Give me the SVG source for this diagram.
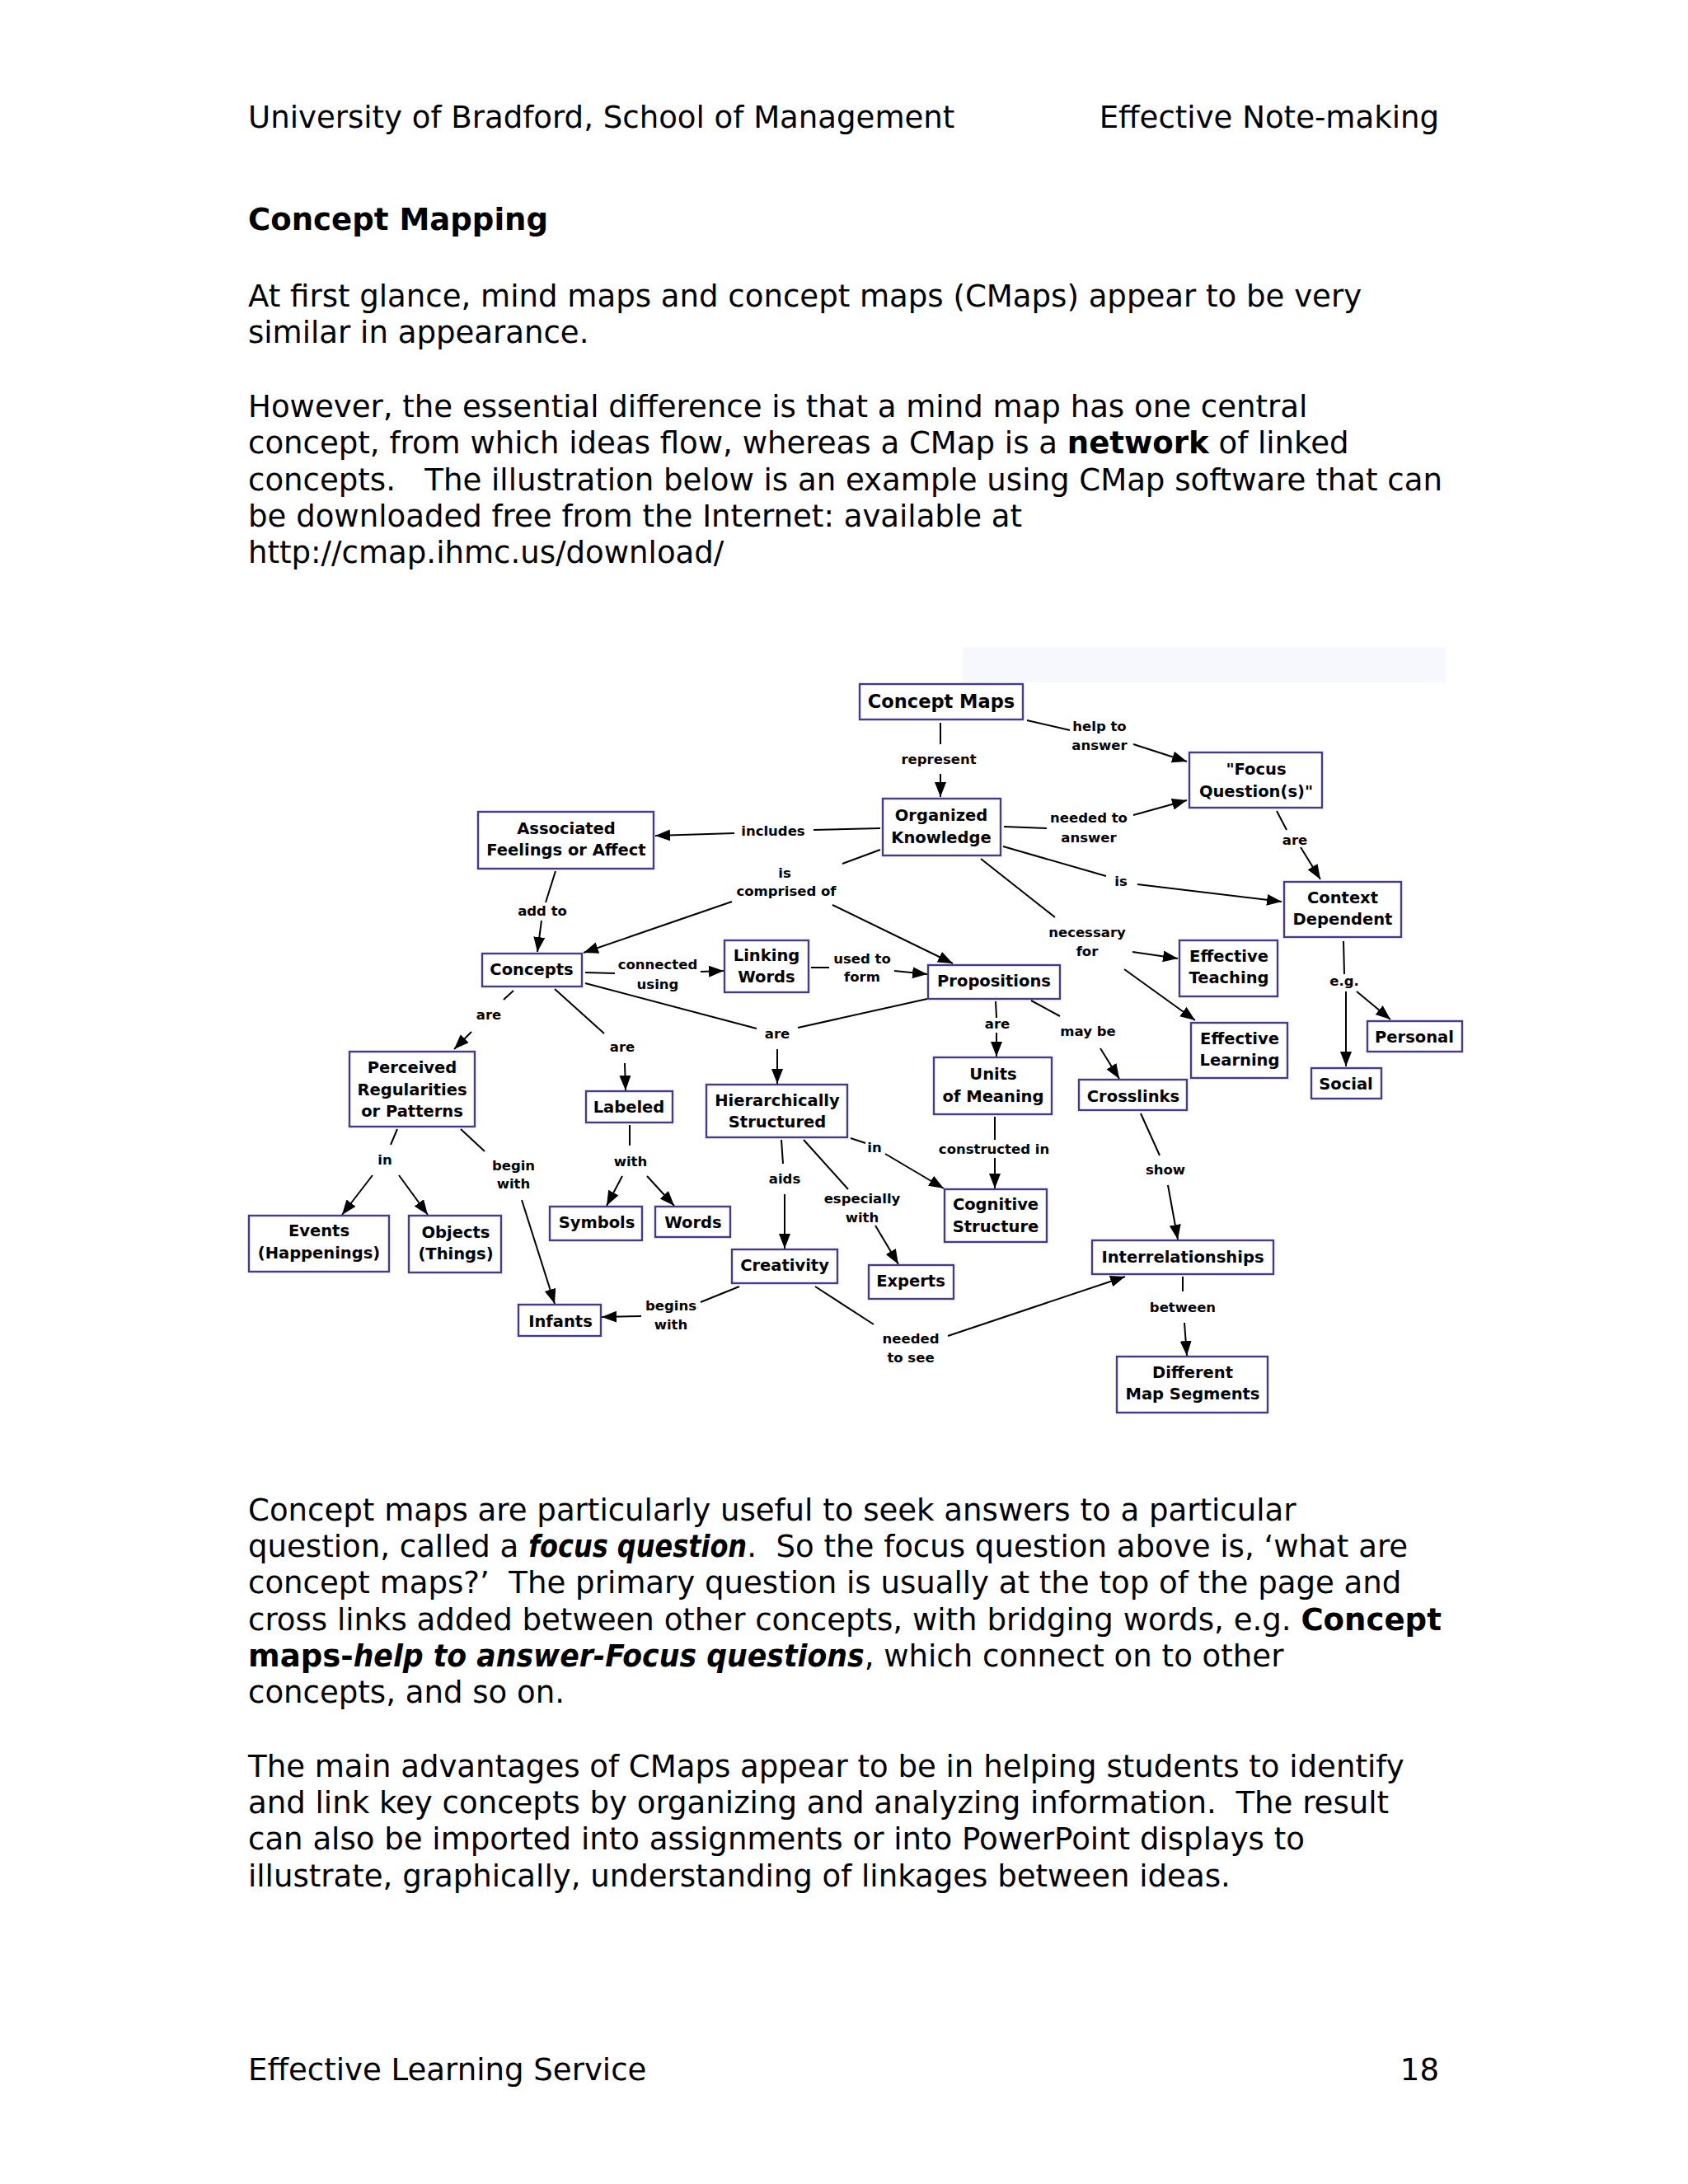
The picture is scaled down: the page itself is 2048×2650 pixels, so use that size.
<svg xmlns="http://www.w3.org/2000/svg" width="2048" height="2650" viewBox="0 0 2048 2650">
<style>
.body{font-family:"DejaVu Sans","Liberation Sans",sans-serif;font-size:37.1px;fill:#000;white-space:pre}
.b{font-weight:bold}
.bi{font-weight:bold;font-style:italic}
.node rect{fill:#fff;stroke:#453b8e;stroke-width:2.4}
.node text{font-family:"DejaVu Sans","Liberation Sans",sans-serif;font-weight:bold;font-size:19.5px;text-anchor:middle;fill:#000}
.lbl{font-family:"DejaVu Sans","Liberation Sans",sans-serif;font-weight:bold;font-size:16.5px;text-anchor:middle;fill:#000}
#connectors line{stroke:#000;stroke-width:2}
#connectors line.a{marker-end:url(#arr)}
</style>
<defs>
<marker id="arr" markerUnits="userSpaceOnUse" markerWidth="20" markerHeight="16" refX="18" refY="7" orient="auto">
<path d="M0,0 L18,7 L0,14 z" fill="#000"/>
</marker>
</defs>
<rect width="2048" height="2650" fill="#fff"/>

<!-- header -->
<text class="body" x="301" y="155">University of Bradford, School of Management</text>
<text class="body" x="1746" y="155" text-anchor="end">Effective Note-making</text>
<text class="body b" x="301" y="279">Concept Mapping</text>

<text class="body" x="301" y="372">At first glance, mind maps and concept maps (CMaps) appear to be very</text>
<text class="body" x="301" y="416">similar in appearance.</text>

<text class="body" x="301" y="506">However, the essential difference is that a mind map has one central</text>
<text class="body" x="301" y="550">concept, from which ideas flow, whereas a CMap is a <tspan class="b">network</tspan> of linked</text>
<text class="body" x="301" y="595">concepts.   The illustration below is an example using CMap software that can</text>
<text class="body" x="301" y="639">be downloaded free from the Internet: available at</text>
<text class="body" x="301" y="683">http://cmap.ihmc.us/download/</text>

<!-- diagram background strip -->
<rect x="1168" y="785" width="586" height="43" fill="#f6f8fd"/>

<g id="connectors">
<line x1="1141" y1="877" x2="1141" y2="903"/>
<line class="a" x1="1141" y1="939" x2="1141" y2="967"/>
<line x1="1246" y1="874" x2="1298" y2="886"/>
<line class="a" x1="1375" y1="903" x2="1440" y2="924"/>
<line x1="1218" y1="1003" x2="1270" y2="1005"/>
<line class="a" x1="1375" y1="989" x2="1440" y2="971"/>
<line x1="1549" y1="984" x2="1561" y2="1007"/>
<line class="a" x1="1578" y1="1028" x2="1602" y2="1067"/>
<line x1="1217" y1="1027" x2="1342" y2="1063"/>
<line class="a" x1="1380" y1="1073" x2="1555" y2="1094"/>
<line x1="1190" y1="1042" x2="1280" y2="1113"/>
<line class="a" x1="1374" y1="1155" x2="1429" y2="1163"/>
<line class="a" x1="1364" y1="1176" x2="1450" y2="1238"/>
<line x1="1630" y1="1142" x2="1631" y2="1182"/>
<line class="a" x1="1633" y1="1203" x2="1633" y2="1294"/>
<line class="a" x1="1646" y1="1203" x2="1687" y2="1237"/>
<line x1="1068" y1="1005" x2="987" y2="1007"/>
<line class="a" x1="891" y1="1011" x2="795" y2="1014"/>
<line x1="1068" y1="1031" x2="1022" y2="1048"/>
<line class="a" x1="888" y1="1094" x2="708" y2="1156"/>
<line class="a" x1="1010" y1="1098" x2="1156" y2="1169"/>
<line x1="674" y1="1057" x2="662" y2="1095"/>
<line class="a" x1="657" y1="1117" x2="652" y2="1155"/>
<line x1="710" y1="1180" x2="746" y2="1181"/>
<line class="a" x1="850" y1="1179" x2="878" y2="1178"/>
<line x1="984" y1="1174" x2="1006" y2="1174"/>
<line class="a" x1="1085" y1="1178" x2="1125" y2="1182"/>
<line x1="710" y1="1193" x2="918" y2="1248"/>
<line x1="1125" y1="1212" x2="968" y2="1247"/>
<line class="a" x1="943" y1="1273" x2="943" y2="1315"/>
<line x1="623" y1="1202" x2="611" y2="1213"/>
<line class="a" x1="572" y1="1252" x2="551" y2="1273"/>
<line x1="673" y1="1200" x2="733" y2="1254"/>
<line class="a" x1="758" y1="1290" x2="759" y2="1323"/>
<line x1="1208" y1="1215" x2="1209" y2="1235"/>
<line class="a" x1="1209" y1="1253" x2="1209" y2="1282"/>
<line x1="1251" y1="1214" x2="1286" y2="1233"/>
<line class="a" x1="1335" y1="1272" x2="1358" y2="1309"/>
<line x1="482" y1="1370" x2="474" y2="1389"/>
<line class="a" x1="452" y1="1426" x2="415" y2="1474"/>
<line class="a" x1="484" y1="1426" x2="519" y2="1474"/>
<line x1="559" y1="1370" x2="588" y2="1397"/>
<line class="a" x1="633" y1="1456" x2="673" y2="1582"/>
<line x1="764" y1="1365" x2="764" y2="1390"/>
<line class="a" x1="755" y1="1427" x2="736" y2="1463"/>
<line class="a" x1="785" y1="1427" x2="818" y2="1463"/>
<line x1="948" y1="1383" x2="950" y2="1412"/>
<line class="a" x1="952" y1="1449" x2="952" y2="1515"/>
<line x1="1032" y1="1381" x2="1050" y2="1387"/>
<line class="a" x1="1074" y1="1400" x2="1145" y2="1442"/>
<line x1="975" y1="1383" x2="1029" y2="1443"/>
<line class="a" x1="1062" y1="1487" x2="1090" y2="1534"/>
<line x1="1207" y1="1355" x2="1207" y2="1383"/>
<line class="a" x1="1207" y1="1405" x2="1207" y2="1442"/>
<line x1="1384" y1="1351" x2="1407" y2="1402"/>
<line class="a" x1="1417" y1="1438" x2="1429" y2="1504"/>
<line x1="897" y1="1561" x2="850" y2="1580"/>
<line class="a" x1="778" y1="1597" x2="730" y2="1598"/>
<line x1="989" y1="1561" x2="1060" y2="1607"/>
<line class="a" x1="1150" y1="1621" x2="1365" y2="1549"/>
<line x1="1435" y1="1549" x2="1435" y2="1567"/>
<line class="a" x1="1437" y1="1605" x2="1440" y2="1645"/>
</g>

<g id="labels">
<text class="lbl" x="1139" y="927">represent</text>
<text class="lbl" x="1334" y="887">help to</text>
<text class="lbl" x="1334" y="910">answer</text>
<text class="lbl" x="1321" y="998">needed to</text>
<text class="lbl" x="1321" y="1022">answer</text>
<text class="lbl" x="1571" y="1025">are</text>
<text class="lbl" x="1360" y="1075">is</text>
<text class="lbl" x="1319" y="1137">necessary</text>
<text class="lbl" x="1319" y="1160">for</text>
<text class="lbl" x="1631" y="1196">e.g.</text>
<text class="lbl" x="938" y="1014">includes</text>
<text class="lbl" x="952" y="1065">is</text>
<text class="lbl" x="954" y="1087">comprised of</text>
<text class="lbl" x="658" y="1111">add to</text>
<text class="lbl" x="798" y="1176">connected</text>
<text class="lbl" x="798" y="1200">using</text>
<text class="lbl" x="1046" y="1169">used to</text>
<text class="lbl" x="1046" y="1191">form</text>
<text class="lbl" x="943" y="1260">are</text>
<text class="lbl" x="593" y="1237">are</text>
<text class="lbl" x="755" y="1276">are</text>
<text class="lbl" x="1210" y="1248">are</text>
<text class="lbl" x="1320" y="1257">may be</text>
<text class="lbl" x="467" y="1413">in</text>
<text class="lbl" x="623" y="1420">begin</text>
<text class="lbl" x="623" y="1442">with</text>
<text class="lbl" x="765" y="1415">with</text>
<text class="lbl" x="952" y="1436">aids</text>
<text class="lbl" x="1061" y="1398">in</text>
<text class="lbl" x="1046" y="1460">especially</text>
<text class="lbl" x="1046" y="1483">with</text>
<text class="lbl" x="1206" y="1400">constructed in</text>
<text class="lbl" x="1414" y="1425">show</text>
<text class="lbl" x="814" y="1590">begins</text>
<text class="lbl" x="814" y="1613">with</text>
<text class="lbl" x="1105" y="1630">needed</text>
<text class="lbl" x="1105" y="1653">to see</text>
<text class="lbl" x="1435" y="1592">between</text>
</g>

<g id="n-conceptmaps" class="node"><rect x="1043" y="830" width="198" height="43"/><text x="1142" y="859" style="font-size:22.5px">Concept Maps</text></g>
<g id="n-focus" class="node"><rect x="1443" y="913" width="161" height="67"/><text x="1524" y="940">"Focus</text><text x="1524" y="967">Question(s)"</text></g>
<g id="n-organized" class="node"><rect x="1071" y="969" width="143" height="69"/><text x="1142" y="996">Organized</text><text x="1142" y="1023">Knowledge</text></g>
<g id="n-associated" class="node"><rect x="580" y="985" width="213" height="69"/><text x="687" y="1012">Associated</text><text x="687" y="1038">Feelings or Affect</text></g>
<g id="n-context" class="node"><rect x="1558" y="1070" width="142" height="67"/><text x="1629" y="1096">Context</text><text x="1629" y="1122">Dependent</text></g>
<g id="n-concepts" class="node"><rect x="585" y="1157" width="121" height="40"/><text x="645" y="1183">Concepts</text></g>
<g id="n-linking" class="node"><rect x="879" y="1141" width="102" height="63"/><text x="930" y="1166">Linking</text><text x="930" y="1192">Words</text></g>
<g id="n-propositions" class="node"><rect x="1126" y="1171" width="160" height="41"/><text x="1206" y="1197">Propositions</text></g>
<g id="n-efteaching" class="node"><rect x="1431" y="1141" width="119" height="68"/><text x="1491" y="1167">Effective</text><text x="1491" y="1193">Teaching</text></g>
<g id="n-eflearning" class="node"><rect x="1445" y="1241" width="117" height="67"/><text x="1504" y="1267">Effective</text><text x="1504" y="1293">Learning</text></g>
<g id="n-personal" class="node"><rect x="1659" y="1239" width="115" height="37"/><text x="1716" y="1265">Personal</text></g>
<g id="n-social" class="node"><rect x="1591" y="1296" width="85" height="37"/><text x="1633" y="1322">Social</text></g>
<g id="n-perceived" class="node"><rect x="424" y="1276" width="152" height="91"/><text x="500" y="1302">Perceived</text><text x="500" y="1329">Regularities</text><text x="500" y="1355">or Patterns</text></g>
<g id="n-labeled" class="node"><rect x="711" y="1324" width="105" height="38"/><text x="763" y="1350">Labeled</text></g>
<g id="n-hierarchically" class="node"><rect x="857" y="1316" width="171" height="64"/><text x="943" y="1342">Hierarchically</text><text x="943" y="1368">Structured</text></g>
<g id="n-units" class="node"><rect x="1133" y="1283" width="143" height="69"/><text x="1205" y="1310">Units</text><text x="1205" y="1337">of Meaning</text></g>
<g id="n-crosslinks" class="node"><rect x="1309" y="1310" width="131" height="37"/><text x="1375" y="1337">Crosslinks</text></g>
<g id="n-events" class="node"><rect x="302" y="1475" width="170" height="68"/><text x="387" y="1500">Events</text><text x="387" y="1527">(Happenings)</text></g>
<g id="n-objects" class="node"><rect x="496" y="1475" width="112" height="69"/><text x="553" y="1502">Objects</text><text x="553" y="1528">(Things)</text></g>
<g id="n-symbols" class="node"><rect x="667" y="1464" width="112" height="41"/><text x="724" y="1490">Symbols</text></g>
<g id="n-words" class="node"><rect x="795" y="1464" width="91" height="37"/><text x="841" y="1490">Words</text></g>
<g id="n-cognitive" class="node"><rect x="1146" y="1443" width="124" height="64"/><text x="1208" y="1468">Cognitive</text><text x="1208" y="1495">Structure</text></g>
<g id="n-creativity" class="node"><rect x="888" y="1516" width="128" height="41"/><text x="952" y="1542">Creativity</text></g>
<g id="n-experts" class="node"><rect x="1054" y="1535" width="103" height="41"/><text x="1105" y="1561">Experts</text></g>
<g id="n-infants" class="node"><rect x="629" y="1583" width="100" height="38"/><text x="680" y="1610">Infants</text></g>
<g id="n-interrelationships" class="node"><rect x="1325" y="1505" width="220" height="41"/><text x="1435" y="1532">Interrelationships</text></g>
<g id="n-different" class="node"><rect x="1355" y="1646" width="183" height="68"/><text x="1447" y="1672">Different</text><text x="1447" y="1698">Map Segments</text></g>

<!-- lower text -->
<text class="body" x="301" y="1845">Concept maps are particularly useful to seek answers to a particular</text>
<text class="body" x="301" y="1889">question, called a <tspan class="bi" textLength="265" lengthAdjust="spacingAndGlyphs">focus question</tspan>.  So the focus question above is, ‘what are</text>
<text class="body" x="301" y="1933">concept maps?’  The primary question is usually at the top of the page and</text>
<text class="body" x="301" y="1978">cross links added between other concepts, with bridging words, e.g. <tspan class="b">Concept</tspan></text>
<text class="body" x="301" y="2022"><tspan class="b">maps-</tspan><tspan class="bi" textLength="620" lengthAdjust="spacingAndGlyphs">help to answer-Focus questions</tspan>, which connect on to other</text>
<text class="body" x="301" y="2066">concepts, and so on.</text>

<text class="body" x="301" y="2156">The main advantages of CMaps appear to be in helping students to identify</text>
<text class="body" x="301" y="2200">and link key concepts by organizing and analyzing information.  The result</text>
<text class="body" x="301" y="2244">can also be imported into assignments or into PowerPoint displays to</text>
<text class="body" x="301" y="2289">illustrate, graphically, understanding of linkages between ideas.</text>

<text class="body" x="301" y="2524">Effective Learning Service</text>
<text class="body" x="1746" y="2524" text-anchor="end">18</text>
</svg>
